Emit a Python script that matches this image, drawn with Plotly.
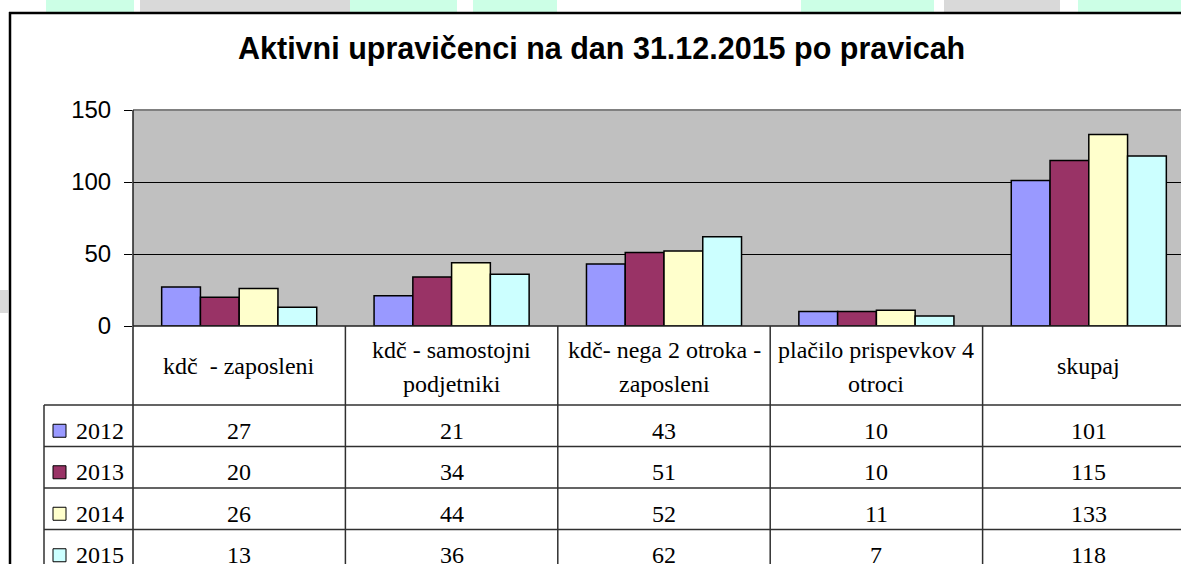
import plotly.graph_objects as go

# ---------------- data ----------------
title_text = "Aktivni upravičenci na dan 31.12.2015 po pravicah"
categories = [
    "kdč  - zaposleni",
    "kdč - samostojni\npodjetniki",
    "kdč- nega 2 otroka -\nzaposleni",
    "plačilo prispevkov 4\notroci",
    "skupaj",
]
years = ["2012", "2013", "2014", "2015"]
v2012 = [27, 21, 43, 10, 101]
v2013 = [20, 34, 51, 10, 115]
v2014 = [26, 44, 52, 11, 133]
v2015 = [13, 36, 62, 7, 118]
series = [v2012, v2013, v2014, v2015]
y_ticks = [0, 50, 100, 150]

# ---------------- styling ----------------
colors = ["#9999FF", "#993366", "#FFFFCC", "#CCFFFF"]
W, H = 1181, 564
def px(x):
    return x / W
def py(y):
    return 1 - y / H

PLOT_L, PLOT_R, PLOT_T, PLOT_B = 133, 1195, 110, 326
cat_w = (PLOT_R - PLOT_L) / len(categories)
x_end = -0.5 + (W - PLOT_L) / cat_w
HEADER_B = 405
ROW_H = 41.5
TABLE_L = 44
SERIF = "Liberation Serif, Times New Roman, serif"
SANS = "Liberation Sans, Arial, sans-serif"
TFS = 24

cat_keys = [c.replace("\n", " ") for c in categories]

fig = go.Figure()
for name, vals, col in zip(years, series, colors):
    fig.add_trace(go.Bar(
        x=list(range(len(cat_keys))), y=vals, name=name,
        marker=dict(color=col, line=dict(color="black", width=1.5)),
        hoverinfo="skip",
    ))

shapes = []
annotations = []

# background watermark strip above the chart frame
for x0, x1, c in [(46, 134, "#CCFFE6"), (140, 350, "#D9D9D9"), (350, 457, "#CCFFE6"),
                  (473, 557, "#CCFFE6"), (801, 934, "#CCFFE6"), (944, 1060, "#D9D9D9"),
                  (1078, 1181, "#CCFFE6")]:
    shapes.append(dict(type="rect", xref="paper", yref="paper", x0=px(x0), x1=px(x1),
                       y0=py(12), y1=py(0), fillcolor=c, line=dict(width=0), layer="below"))
shapes.append(dict(type="rect", xref="paper", yref="paper", x0=px(0), x1=px(8),
                   y0=py(313), y1=py(290), fillcolor="#D9D9D9", line=dict(width=0), layer="below"))
# chart frame
shapes.append(dict(type="line", xref="paper", yref="paper", x0=px(9), x1=px(W + 5),
                   y0=py(13), y1=py(13), line=dict(color="black", width=2.5)))
shapes.append(dict(type="line", xref="paper", yref="paper", x0=px(10), x1=px(10),
                   y0=py(12), y1=py(H + 5), line=dict(color="black", width=2.5)))
# plot area top border
shapes.append(dict(type="line", xref="paper", yref="paper", x0=px(PLOT_L), x1=px(W + 5),
                   y0=py(PLOT_T), y1=py(PLOT_T), line=dict(color="#808080", width=2)))
# axis / table left line
shapes.append(dict(type="line", xref="paper", yref="paper", x0=px(PLOT_L), x1=px(PLOT_L),
                   y0=py(PLOT_T), y1=py(H + 5), line=dict(color="#202020", width=1.5)))
# plot bottom
shapes.append(dict(type="line", xref="paper", yref="paper", x0=px(PLOT_L), x1=px(W + 5),
                   y0=py(PLOT_B), y1=py(PLOT_B), line=dict(color="#202020", width=1.5)))
# category separators in table
for i in range(1, len(categories)):
    shapes.append(dict(type="line", xref="x", yref="paper", x0=i - 0.5, x1=i - 0.5,
                       y0=py(PLOT_B), y1=py(H + 5), line=dict(color="#303030", width=1.5)))
# table rows
for r in range(len(years)):
    yy = HEADER_B + r * ROW_H
    shapes.append(dict(type="line", xref="paper", yref="paper", x0=px(TABLE_L), x1=px(W + 5),
                       y0=py(yy), y1=py(yy), line=dict(color="#303030", width=1.5)))
shapes.append(dict(type="line", xref="paper", yref="paper", x0=px(TABLE_L), x1=px(TABLE_L),
                   y0=py(HEADER_B), y1=py(H + 5), line=dict(color="#303030", width=1.5)))

# title
annotations.append(dict(text="<b>" + title_text + "</b>", xref="paper", yref="paper",
                        x=px(601), y=py(49), xanchor="center", yanchor="middle",
                        showarrow=False, font=dict(family=SANS, size=30.5, color="black")))

# header labels
for i, c in enumerate(categories):
    lines = c.split("\n")
    if len(lines) == 1:
        centers = [366]
    else:
        centers = [350, 384]
    for ln, cy in zip(lines, centers):
        annotations.append(dict(text=ln, xref="x", yref="paper", x=i, y=py(cy),
                                xanchor="center", yanchor="middle", showarrow=False,
                                font=dict(family=SERIF, size=TFS, color="black")))

# rows: legend keys, year labels, values
for r, (name, vals, col) in enumerate(zip(years, series, colors)):
    cy = HEADER_B + r * ROW_H + ROW_H / 2 + 5
    shapes.append(dict(type="rect", xref="paper", yref="paper", x0=px(53), x1=px(66),
                       y0=py(cy + 6.5), y1=py(cy - 6.5), fillcolor=col,
                       line=dict(color="black", width=1)))
    annotations.append(dict(text=name, xref="paper", yref="paper", x=px(74), y=py(cy),
                            xanchor="left", yanchor="middle", showarrow=False,
                            font=dict(family=SERIF, size=TFS, color="black")))
    for i, v in enumerate(vals):
        annotations.append(dict(text=str(v), xref="x", yref="paper", x=i, y=py(cy),
                                xanchor="center", yanchor="middle", showarrow=False,
                                font=dict(family=SERIF, size=TFS, color="black")))

fig.update_layout(
    width=W, height=H,
    margin=dict(l=0, r=0, t=0, b=0, autoexpand=False),
    paper_bgcolor="white", plot_bgcolor="#C0C0C0",
    barmode="group", bargap=0.27, bargroupgap=0,
    showlegend=False,
    shapes=shapes, annotations=annotations,
    xaxis=dict(domain=[px(PLOT_L), 1], range=[-0.5, x_end], showticklabels=False,
               showgrid=False, zeroline=False, fixedrange=True, ticks=""),
    yaxis=dict(domain=[py(PLOT_B), py(PLOT_T)], range=[0, 150], tickvals=y_ticks,
               showgrid=True, gridcolor="black", gridwidth=1, zeroline=False,
               ticks="outside", ticklen=8, tickcolor="black", tickwidth=1,
               ticklabelstandoff=8,
               tickfont=dict(family=SANS, size=24, color="black"), fixedrange=True),
)

fig.write_html(
    "out.html",
    config={"displayModeBar": False},
    post_script="document.body.style.margin='0';document.body.style.overflow='hidden';",
)
